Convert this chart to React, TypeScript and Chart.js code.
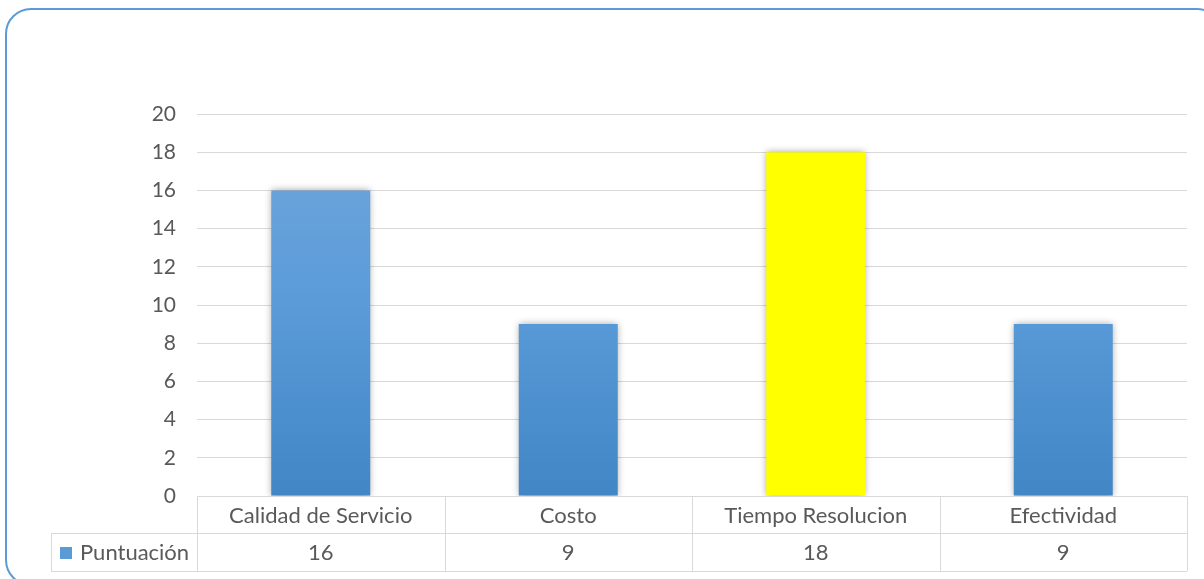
import React, { useEffect, useRef } from "react";
import { Chart, registerables } from "chart.js";

Chart.register(...registerables);

const categories = ["Calidad de Servicio", "Costo", "Tiempo Resolucion", "Efectividad"];
const seriesName = "Puntuación";
const values = [16, 9, 18, 9];
const yTicks = [0, 2, 4, 6, 8, 10, 12, 14, 16, 18, 20];

const FONT = "Lato, 'Open Sans', sans-serif";
const TEXT = "#595959";
const GRID = "#D9D9D9";

export default function App() {
  const ref = useRef<HTMLCanvasElement | null>(null);

  useEffect(() => {
    document.body.style.margin = "0";
    const canvas = ref.current!;
    const tablePlugin = {
      id: "dataTable",
      beforeDatasetsDraw(chart: any) {
        const ctx = chart.ctx;
        ctx.save();
        ctx.shadowColor = "rgba(0,0,0,0.35)";
        ctx.shadowBlur = 7;
        ctx.shadowOffsetX = 0;
        ctx.shadowOffsetY = 0;
      },
      afterDatasetsDraw(chart: any) {
        chart.ctx.restore();
      },
      afterDraw(chart: any) {
        const ctx = chart.ctx;
        const { left, right, bottom } = chart.chartArea;
        const x = chart.scales.x;
        const n = categories.length;
        const cw = (right - left) / n;
        const row1 = bottom;
        const row2 = bottom + 37;
        const row3 = bottom + 75;
        const legendLeft = 51;
        ctx.save();
        ctx.strokeStyle = GRID;
        ctx.lineWidth = 1;
        const h = (y: number, x1: number, x2: number) => {
          ctx.beginPath();
          ctx.moveTo(x1, Math.round(y) + 0.5);
          ctx.lineTo(x2, Math.round(y) + 0.5);
          ctx.stroke();
        };
        const v = (xx: number, y1: number, y2: number) => {
          ctx.beginPath();
          ctx.moveTo(Math.round(xx) + 0.5, y1);
          ctx.lineTo(Math.round(xx) + 0.5, y2);
          ctx.stroke();
        };
        h(row1, left, right);
        h(row2, legendLeft, right);
        h(row3, legendLeft, right);
        for (let i = 0; i <= n; i++) v(left + i * cw, row1, row3);
        v(legendLeft, row2, row3);
        ctx.fillStyle = TEXT;
        ctx.font = `22px ${FONT}`;
        ctx.textAlign = "center";
        ctx.textBaseline = "middle";
        for (let i = 0; i < n; i++) {
          const cx = x.getPixelForValue(i);
          ctx.fillText(categories[i], cx, (row1 + row2) / 2 + 1);
          ctx.fillText(String(values[i]), cx, (row2 + row3) / 2 + 1);
        }
        ctx.fillStyle = "#5B9BD5";
        ctx.fillRect(60, (row2 + row3) / 2 - 5, 12, 12);
        ctx.fillStyle = TEXT;
        ctx.textAlign = "left";
        ctx.fillText(seriesName, 80, (row2 + row3) / 2 + 1);
        ctx.restore();
      },
    };

    const chart = new Chart(canvas, {
      type: "bar",
      data: {
        labels: categories,
        datasets: [
          {
            label: seriesName,
            data: values,
            backgroundColor: (c: any) => {
              if (c.dataIndex === 2) return "#FFFF00";
              const area = c.chart.chartArea;
              if (!area) return "#5B9BD5";
              const g = c.chart.ctx.createLinearGradient(0, area.top, 0, area.bottom);
              g.addColorStop(0, "#72A7DD");
              g.addColorStop(0.5, "#5A9BD8");
              g.addColorStop(1, "#4286C6");
              return g;
            },
            borderWidth: 0,
            categoryPercentage: 0.4,
            barPercentage: 1,
          },
        ],
      },
      options: {
        responsive: false,
        animation: false,
        maintainAspectRatio: false,
        layout: { padding: { top: 114, bottom: 83, right: 17, left: 0 } },
        plugins: { legend: { display: false }, tooltip: { enabled: false } },
        scales: {
          x: { display: false, grid: { display: false } },
          y: {
            min: 0,
            max: 20,
            afterBuildTicks: (s: any) => {
              s.ticks = yTicks.map((t) => ({ value: t }));
            },
            afterFit: (s: any) => {
              s.width = 197;
            },
            border: { display: false },
            grid: { color: GRID, drawTicks: false, lineWidth: 1 },
            ticks: { color: TEXT, font: { family: FONT, size: 21 }, padding: 21 },
          },
        },
      },
      plugins: [tablePlugin],
    });
    return () => chart.destroy();
  }, []);

  return (
    <div style={{ position: "relative", width: 1204, height: 579, overflow: "hidden", background: "#fff" }}>
      <div
        style={{
          position: "absolute",
          left: 5,
          top: 8,
          width: 1218,
          height: 578,
          border: "2px solid #5B9BD5",
          borderRadius: 26,
          boxSizing: "border-box",
        }}
      />
      <canvas ref={ref} width={1204} height={579} style={{ position: "absolute", left: 0, top: 0 }} />
    </div>
  );
}
